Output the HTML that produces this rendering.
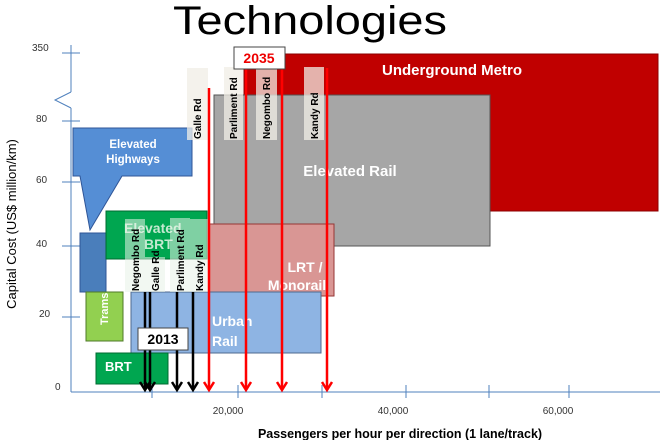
<!DOCTYPE html>
<html><head><meta charset="utf-8"><style>
body{margin:0;background:#fff}
svg{display:block}
text{font-family:"Liberation Sans",sans-serif}
</style></head><body>
<svg width="660" height="440" viewBox="0 0 660 440" xmlns="http://www.w3.org/2000/svg">
<text x="310" y="34" font-size="40" text-anchor="middle" fill="#000" textLength="274" lengthAdjust="spacingAndGlyphs">Technologies</text>
<!-- axes -->
<g stroke="#4f81bd" stroke-width="1">
<line x1="71" y1="45" x2="71" y2="92"/>
<polyline points="71,92 55,100 71,108" fill="none"/>
<line x1="71" y1="108" x2="71" y2="392"/>
<line x1="71" y1="392" x2="660" y2="392"/>
<line x1="62" y1="53" x2="80" y2="53"/><line x1="62" y1="121" x2="80" y2="121"/><line x1="62" y1="182" x2="80" y2="182"/><line x1="62" y1="246" x2="80" y2="246"/><line x1="62" y1="317" x2="80" y2="317"/>
<line x1="152" y1="385" x2="152" y2="398"/><line x1="238" y1="385" x2="238" y2="398"/><line x1="322" y1="385" x2="322" y2="398"/><line x1="406" y1="385" x2="406" y2="398"/><line x1="489" y1="385" x2="489" y2="398"/><line x1="569" y1="385" x2="569" y2="398"/>
</g>
<g font-size="10" fill="#333">
<text x="32" y="51">350</text><text x="36" y="122">80</text><text x="36" y="183">60</text><text x="36" y="247">40</text><text x="39" y="317">20</text><text x="55" y="390">0</text>
<text x="228" y="414" text-anchor="middle">20,000</text><text x="393" y="414" text-anchor="middle">40,000</text><text x="558" y="414" text-anchor="middle">60,000</text>
</g>
<text transform="translate(16,224) rotate(-90)" font-size="13" text-anchor="middle" fill="#000">Capital Cost (US$ million/km)</text>
<text x="400" y="438" font-size="12.5" font-weight="bold" text-anchor="middle" fill="#000">Passengers per hour per direction (1 lane/track)</text>
<!-- shapes -->
<rect x="244" y="54" width="414" height="157" fill="#c00000" stroke="#8b0000"/>
<text x="452" y="75" font-size="15" font-weight="bold" fill="#fff" text-anchor="middle">Underground Metro</text>
<rect x="214" y="95" width="276" height="151" fill="#a6a6a6" stroke="#555"/>
<text x="350" y="176" font-size="15" font-weight="bold" fill="#fff" text-anchor="middle">Elevated Rail</text>
<path d="M73,128 H192 V176 H122 L90,230 L80,176 H73 Z" fill="#558ed5" stroke="#2f5597"/>
<text x="133" y="148" font-size="11.5" font-weight="bold" fill="#fff" text-anchor="middle">Elevated</text>
<text x="133" y="163" font-size="11.5" font-weight="bold" fill="#fff" text-anchor="middle">Highways</text>
<rect x="80" y="233" width="26" height="59" fill="#4a7ebb" stroke="#2f5597"/>
<rect x="106" y="211" width="101" height="48" fill="#00a650" stroke="#006b30"/>
<rect x="209" y="224" width="125" height="72" fill="#d99694" stroke="#963634"/>
<text x="305" y="272" font-size="14" font-weight="bold" fill="#fff" text-anchor="middle">LRT /</text>
<text x="297" y="290" font-size="14" font-weight="bold" fill="#fff" text-anchor="middle">Monorail</text>
<rect x="131" y="292" width="190" height="61" fill="#8eb4e3" stroke="#4f6a8f"/>
<text x="212" y="326" font-size="14" font-weight="bold" fill="#fff">Urban</text>
<text x="212" y="346" font-size="14" font-weight="bold" fill="#fff">Rail</text>
<rect x="86" y="292" width="37" height="49" fill="#92d050" stroke="#4f7a28"/>
<text transform="translate(108,325) rotate(-90)" font-size="11" font-weight="bold" fill="#fff">Trams</text>
<rect x="96" y="353" width="72" height="31" fill="#00a650" stroke="#006b30"/>
<text x="105" y="371" font-size="13" font-weight="bold" fill="#fff">BRT</text>
<!-- 2013 strips -->
<g fill="#e8f3e8" fill-opacity="0.55">
<rect x="125" y="219" width="20" height="73"/><rect x="145" y="257" width="20" height="35"/><rect x="170" y="218" width="20" height="74"/><rect x="190" y="219" width="19" height="73"/>
</g>
<text x="124" y="233" font-size="14" font-weight="bold" fill="#e6f5e6" fill-opacity="0.85">Elevated</text>
<text x="144" y="249" font-size="14" font-weight="bold" fill="#e6f5e6" fill-opacity="0.85">BRT</text>
<g font-size="10" font-weight="bold" fill="#000">
<text transform="translate(139,291) rotate(-90)">Negombo Rd</text>
<text transform="translate(159,291) rotate(-90)">Galle Rd</text>
<text transform="translate(184,291) rotate(-90)">Parliment Rd</text>
<text transform="translate(203,291) rotate(-90)">Kandy Rd</text>
</g>
<!-- 2035 strips -->
<g fill="#f0eee6" fill-opacity="0.75">
<rect x="187" y="68" width="21" height="72"/><rect x="224" y="67" width="19" height="73"/><rect x="256" y="67" width="21" height="73"/><rect x="304" y="67" width="20" height="73"/>
</g>
<g font-size="10" font-weight="bold" fill="#000">
<text transform="translate(201,139) rotate(-90)">Galle Rd</text>
<text transform="translate(237,139) rotate(-90)">Parliment Rd</text>
<text transform="translate(270,139) rotate(-90)">Negombo Rd</text>
<text transform="translate(318,139) rotate(-90)">Kandy Rd</text>
</g>
<!-- arrows -->
<g stroke="#f00" stroke-width="2.5" fill="none">
<line x1="209" y1="88" x2="209" y2="390"/><line x1="246" y1="68" x2="246" y2="390"/><line x1="282" y1="68" x2="282" y2="390"/><line x1="327" y1="68" x2="327" y2="390"/>
<polyline points="204,382 209,390 214,382"/><polyline points="241,382 246,390 251,382"/><polyline points="277,382 282,390 287,382"/><polyline points="322,382 327,390 332,382"/>
</g>
<g stroke="#000" stroke-width="2.5" fill="none">
<line x1="145" y1="292" x2="145" y2="390"/><line x1="150" y1="292" x2="150" y2="390"/><line x1="177" y1="292" x2="177" y2="390"/><line x1="193" y1="292" x2="193" y2="390"/>
<polyline points="140,382 145,390 150,382"/><polyline points="145,382 150,390 155,382"/><polyline points="172,382 177,390 182,382"/><polyline points="188,382 193,390 198,382"/>
</g>
<rect x="138" y="328" width="50" height="22" fill="#fff" stroke="#444"/>
<text x="163" y="344" font-size="14" font-weight="bold" text-anchor="middle" fill="#000">2013</text>
<rect x="234" y="47" width="51" height="22" fill="#fff" stroke="#444"/>
<text x="259" y="63" font-size="14" font-weight="bold" text-anchor="middle" fill="#e00">2035</text>
</svg>
</body></html>
